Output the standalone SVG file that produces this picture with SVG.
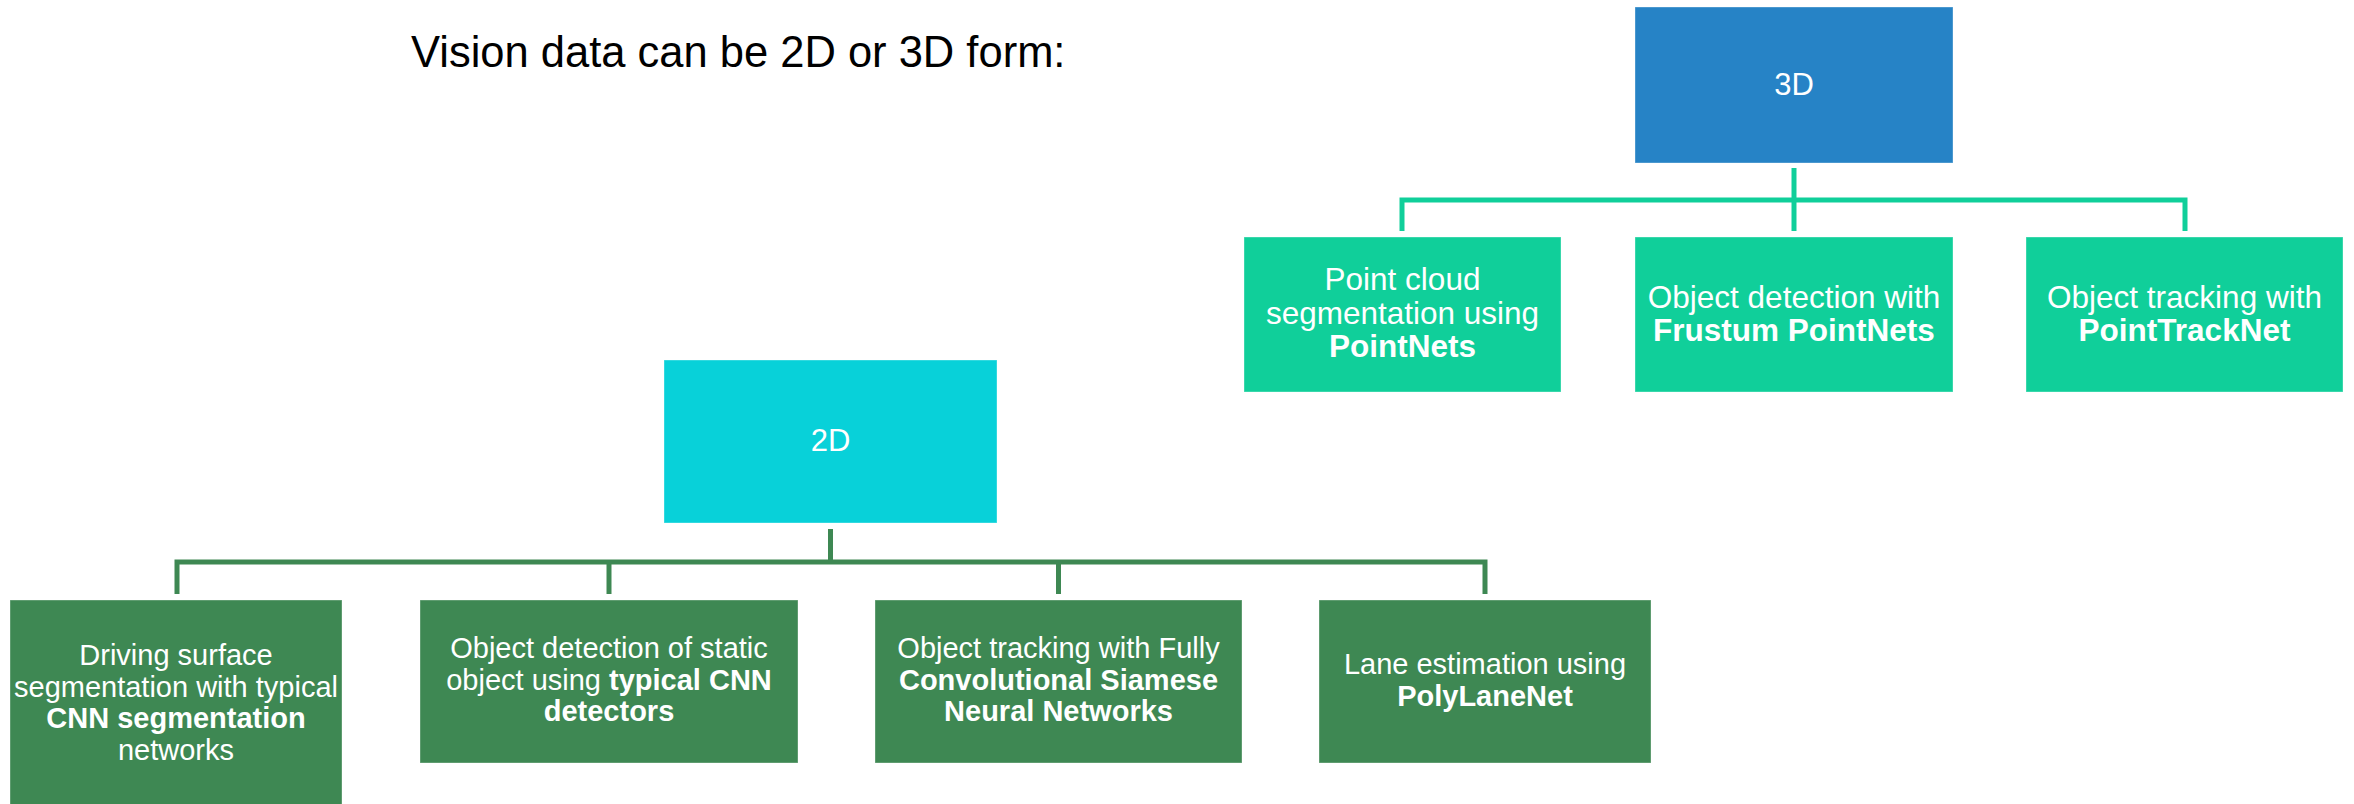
<svg xmlns="http://www.w3.org/2000/svg" width="2354" height="804" viewBox="0 0 2354 804">
  <style>
    text { font-family: "Liberation Sans", Arial, sans-serif; fill: #ffffff; text-anchor: middle; }
    .title { fill: #000000; text-anchor: start; font-size: 43.5px; }
    .head { font-size: 31px; }
    .t3 { font-size: 31.5px; }
    .t2 { font-size: 29px; }
    .b { font-weight: bold; }
    .box { stroke: #ffffff; stroke-opacity: 0.35; stroke-width: 1; }
    .blue { fill: #2683C6; }
    .cyan { fill: #08D1D9; }
    .mint { fill: #10CF9A; }
    .dark { fill: #3E8853; }
    .wire-mint { fill: none; stroke: #10CF9A; stroke-width: 5; }
    .wire-dark { fill: none; stroke: #3E8853; stroke-width: 5; }
  </style>

  <rect width="2354" height="804" fill="#ffffff"/>

  <text class="title" x="411" y="67">Vision data can be 2D or 3D form:</text>

  <!-- connectors -->
  <g id="connectors">
    <path class="wire-mint" d="M1402,231 V200 H2185 V231"/>
    <path class="wire-mint" d="M1794,168 V231"/>
    <path class="wire-dark" d="M177,594 V562 H1485 V594"/>
    <path class="wire-dark" d="M609,562 V594"/>
    <path class="wire-dark" d="M1058.5,562 V594"/>
    <path class="wire-dark" d="M830.5,529 V562"/>
  </g>

  <!-- 3D branch -->
  <g id="node-3d">
    <rect class="box blue" x="1635" y="7" width="318" height="156"/>
    <text class="head" x="1794" y="95">3D</text>
  </g>
  <g id="node-pointnets">
    <rect class="box mint" x="1244" y="237" width="317" height="155"/>
    <text class="t3" x="1402.5" y="290">Point cloud</text>
    <text class="t3" x="1402.5" y="323.5">segmentation using</text>
    <text class="t3 b" x="1402.5" y="357">PointNets</text>
  </g>
  <g id="node-frustum">
    <rect class="box mint" x="1635" y="237" width="318" height="155"/>
    <text class="t3" x="1794" y="307.5">Object detection with</text>
    <text class="t3 b" x="1794" y="341">Frustum PointNets</text>
  </g>
  <g id="node-pointtracknet">
    <rect class="box mint" x="2026" y="237" width="317" height="155"/>
    <text class="t3" x="2184.5" y="307.5">Object tracking with</text>
    <text class="t3 b" x="2184.5" y="341">PointTrackNet</text>
  </g>

  <!-- 2D branch -->
  <g id="node-2d">
    <rect class="box cyan" x="664" y="360" width="333" height="163"/>
    <text class="head" x="830.5" y="451">2D</text>
  </g>
  <g id="node-surface">
    <rect class="box dark" x="10" y="600" width="332" height="206"/>
    <text class="t2" x="176" y="665">Driving surface</text>
    <text class="t2" x="176" y="696.5">segmentation with typical</text>
    <text class="t2 b" x="176" y="728">CNN segmentation</text>
    <text class="t2" x="176" y="759.5">networks</text>
  </g>
  <g id="node-static">
    <rect class="box dark" x="420" y="600" width="378" height="163"/>
    <text class="t2" x="609" y="658">Object detection of static</text>
    <text class="t2" x="609" y="689.5">object using <tspan class="b">typical CNN</tspan></text>
    <text class="t2 b" x="609" y="721">detectors</text>
  </g>
  <g id="node-siamese">
    <rect class="box dark" x="875" y="600" width="367" height="163"/>
    <text class="t2" x="1058.5" y="658">Object tracking with Fully</text>
    <text class="t2 b" x="1058.5" y="689.5">Convolutional Siamese</text>
    <text class="t2 b" x="1058.5" y="721">Neural Networks</text>
  </g>
  <g id="node-lane">
    <rect class="box dark" x="1319" y="600" width="332" height="163"/>
    <text class="t2" x="1485" y="674">Lane estimation using</text>
    <text class="t2 b" x="1485" y="706">PolyLaneNet</text>
  </g>
</svg>
